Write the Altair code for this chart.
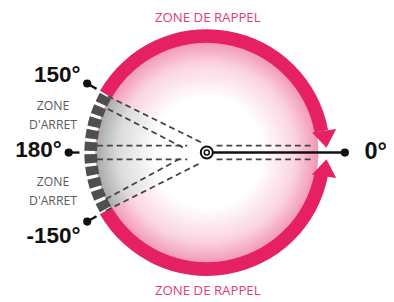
import math
import altair as alt
import pandas as pd

# ---------------- content ----------------
dial_angles = [150, 180, -150, 0]
dial_labels = ["150°", "180°", "-150°", "0°"]
rappel_label = "ZONE DE RAPPEL"
arret_words = ["ZONE", "D'ARRET", "ZONE", "D'ARRET"]
# return (rappel) arcs, drawn clockwise from start to end angle (deg, ccw from 3 o'clock)
rappel_start = [150, -11]
rappel_end = [10.5, -150]
# stop (arret) sector
arret_start, arret_end = 210, 150
arret_blocks = [153, 159, 165, 171, 177, 183, 189, 195, 201, 207]

# ---------------- layout (px, relative to dial centre, y up) ----------------
W, H = 386, 292
XD = [-203, 183]
YD = [-147.5, 144.5]
R_OUT, R_IN = 126, 112
R_PIN_IN, R_PIN_OUT = 130, 141
BLOCK_HALF = 2.2
PINK = "#e62163"
PINK_TXT = "#e33a76"
label_anchor = {"150°": (-129, 79.5), "180°": (-148, 2.5), "-150°": (-129, -85.5), "0°": (161, 0)}
arret_pos = [(-157, 47.5), (-157, 28.5), (-157, -30.5), (-157, -49.5)]
rappel_pos = [(1, 137.5), (1, -141.5)]
guide_lines = [  # dashed construction lines x, y, x2, y2
    (-101, 57.5, -6, 10.5),
    (-101, 44.5, -23, 4.5),
    (-112, 7, -20, 7),
    (-112, -7, -20, -7),
    (-103, -59.5, -6, -10.5),
    (-103, -47.5, -26, -5.5),
    (10, 7, 110, 7),
    (10, -7, 110, -7),
]


def X(f):
    return alt.X(f, type="quantitative", scale=alt.Scale(domain=XD, nice=False, zero=False), axis=None)


def Y(f):
    return alt.Y(f, type="quantitative", scale=alt.Scale(domain=YD, nice=False, zero=False), axis=None)


def thetas(a_start, a_end):
    t1 = math.radians((90 - a_start) % 360)
    t2 = math.radians((90 - a_end) % 360)
    if t2 <= t1:
        t2 += 2 * math.pi
    return t1, t2


def arc_df(pairs):
    rows = []
    for a, b in pairs:
        t1, t2 = thetas(a, b)
        rows.append({"cx": 0, "cy": 0, "t1": t1, "t2": t2})
    return pd.DataFrame(rows)


def arc_enc(ch, r_out, r_in=None):
    enc = dict(
        x=X("cx"), y=Y("cy"),
        theta=alt.Theta("t1:Q", scale=None, stack=None),
        theta2=alt.Theta2("t2"),
        radius=alt.value(r_out),
    )
    if r_in is not None:
        enc["radius2"] = alt.value(r_in)
    return ch.encode(**enc)


# pink interior disc
pink_fill = {
    "gradient": "radial", "x1": 0.5, "y1": 0.5, "r1": 0, "x2": 0.5, "y2": 0.5, "r2": 0.5,
    "stops": [
        {"offset": 0, "color": "#ffffff"},
        {"offset": 0.5, "color": "#ffffff"},
        {"offset": 0.8, "color": "#fad3e1"},
        {"offset": 1, "color": "#f294b6"},
    ],
}
disc_df = pd.DataFrame([{"cx": 0, "cy": 0, "t1": 0.0, "t2": 2 * math.pi}])
disc = arc_enc(alt.Chart(disc_df).mark_arc(fill=pink_fill), R_IN + 2)

# grey stop sector
grey_fill = {
    "gradient": "radial", "x1": 1, "y1": 0.5, "r1": 0, "x2": 1, "y2": 0.5, "r2": 1,
    "stops": [
        {"offset": 0, "color": "#ffffff"},
        {"offset": 0.45, "color": "#ffffff"},
        {"offset": 0.8, "color": "#dcdcdc"},
        {"offset": 1, "color": "#a9a9a9"},
    ],
}
sector = arc_enc(alt.Chart(arc_df([(arret_start, arret_end)])).mark_arc(fill=grey_fill), R_IN + 1)

# return ring
ring = arc_enc(alt.Chart(arc_df(list(zip(rappel_start, rappel_end)))).mark_arc(color=PINK), R_OUT, R_IN)

# stop blocks
blocks = arc_enc(
    alt.Chart(arc_df([(c + BLOCK_HALF, c - BLOCK_HALF) for c in arret_blocks])).mark_arc(color="#4f4f4f"),
    R_OUT - 1, R_IN,
)

# arrow heads
arrows_df = pd.DataFrame([
    {"x": 121, "y": 13.5, "dir": "down"},
    {"x": 121, "y": -15.5, "dir": "up"},
])
arrow_down = alt.Chart(arrows_df[arrows_df.dir == "down"]).mark_point(
    shape="M-1,-0.7L1,-0.7L0,0.7Z", size=625, filled=True, color=PINK, opacity=1, angle=352
).encode(x=X("x"), y=Y("y"))
arrow_up = alt.Chart(arrows_df[arrows_df.dir == "up"]).mark_point(
    shape="M-1,0.7L1,0.7L0,-0.7Z", size=625, filled=True, color=PINK, opacity=1, angle=8
).encode(x=X("x"), y=Y("y"))

# dashed guide lines
guides_df = pd.DataFrame(guide_lines, columns=["x", "y", "x2", "y2"])
guides = alt.Chart(guides_df).mark_rule(color="#444444", strokeWidth=1.8, strokeDash=[6, 4]).encode(
    x=X("x"), y=Y("y"), x2="x2", y2="y2"
)

# pins
pins_df = pd.DataFrame({"angle": dial_angles, "label": dial_labels})
pins_df["xi"] = [R_PIN_IN * math.cos(math.radians(a)) for a in dial_angles]
pins_df["yi"] = [R_PIN_IN * math.sin(math.radians(a)) for a in dial_angles]
pins_df["xo"] = [R_PIN_OUT * math.cos(math.radians(a)) for a in dial_angles]
pins_df["yo"] = [R_PIN_OUT * math.sin(math.radians(a)) for a in dial_angles]
pins_df.loc[pins_df.angle == 0, "xi"] = 0
pins_df.loc[pins_df.angle == 0, "yi"] = 0
stems = alt.Chart(pins_df).mark_rule(color="#111111", strokeWidth=2.4).encode(
    x=X("xi"), y=Y("yi"), x2="xo", y2="yo"
)
dots = alt.Chart(pins_df).mark_point(filled=True, color="#111111", size=70, opacity=1).encode(
    x=X("xo"), y=Y("yo")
)

# centre hub
hub_df = pd.DataFrame({"cx": [0], "cy": [0]})
hub = alt.Chart(hub_df).mark_point(shape="circle", size=150, fill="white", stroke="#111111",
                                   strokeWidth=2, opacity=1, fillOpacity=1).encode(x=X("cx"), y=Y("cy"))
hub_in = alt.Chart(hub_df).mark_point(shape="circle", size=26, filled=False, stroke="#111111",
                                      strokeWidth=1.5, opacity=1).encode(x=X("cx"), y=Y("cy"))

# angle labels
lab_df = pd.DataFrame({"label": dial_labels})
lab_df["x"] = [label_anchor[l][0] for l in dial_labels]
lab_df["y"] = [label_anchor[l][1] for l in dial_labels]
lab_left = alt.Chart(lab_df[lab_df.label != "0°"]).mark_text(
    font="Liberation Sans", fontWeight="bold", fontSize=23, align="right", baseline="middle", color="#111111"
).encode(x=X("x"), y=Y("y"), text="label")
lab_right = alt.Chart(lab_df[lab_df.label == "0°"]).mark_text(
    font="Liberation Sans", fontWeight="bold", fontSize=24, align="left", baseline="middle", color="#111111"
).encode(x=X("x"), y=Y("y"), text="label")

# zone texts
arret_df = pd.DataFrame({"t": arret_words, "x": [p[0] for p in arret_pos], "y": [p[1] for p in arret_pos]})
arret_txt = alt.Chart(arret_df).mark_text(
    font="Open Sans", fontSize=12.5, color="#5a5a5a", align="center", baseline="middle"
).encode(x=X("x"), y=Y("y"), text="t")
rappel_df = pd.DataFrame({"t": [rappel_label] * 2, "x": [p[0] for p in rappel_pos], "y": [p[1] for p in rappel_pos]})
rappel_txt = alt.Chart(rappel_df).mark_text(
    font="Open Sans", fontSize=13.5, color=PINK_TXT, align="center", baseline="middle"
).encode(x=X("x"), y=Y("y"), text="t")

chart = alt.layer(
    disc, sector, ring, blocks, arrow_down, arrow_up, guides, stems, dots, hub, hub_in,
    lab_left, lab_right, arret_txt, rappel_txt,
).properties(
    width=W, height=H, padding=0, autosize=alt.AutoSizeParams(type="none"), background="white"
).configure_view(stroke=None)

chart.save("out.html", embed_options={"renderer": "svg", "actions": False})
